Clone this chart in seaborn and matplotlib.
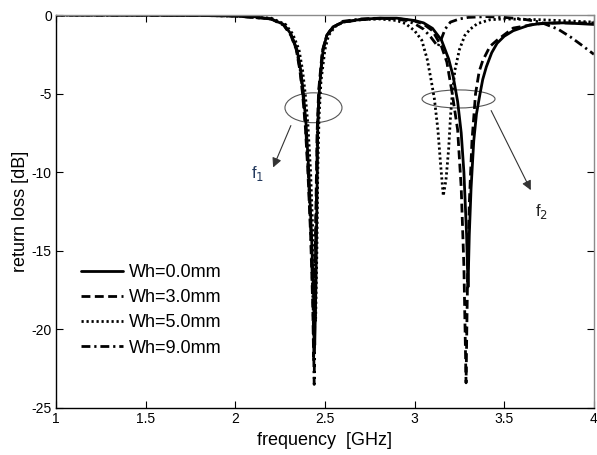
import numpy as np
import pandas as pd
import matplotlib
matplotlib.use("Agg")
import matplotlib.pyplot as plt
from matplotlib.patches import Ellipse
import seaborn as sns

# ---- data ----
wh0_f = [1.0, 1.5, 1.8, 2.0, 2.1, 2.2, 2.27, 2.31, 2.344, 2.365, 2.38, 2.395, 2.41, 2.425, 2.437, 2.443,
         2.45, 2.455, 2.46, 2.47, 2.49, 2.51, 2.545, 2.6, 2.7, 2.8, 2.9, 3.0, 3.05, 3.1, 3.15, 3.19, 3.215,
         3.24, 3.26, 3.275, 3.29, 3.298, 3.305, 3.315, 3.33, 3.345, 3.365, 3.38, 3.40, 3.43, 3.46, 3.5,
         3.55, 3.64, 3.72, 3.83, 3.92, 4.0]
wh0_db = [0.0, -0.01, -0.03, -0.06, -0.1, -0.25, -0.6, -1.2, -2.2, -3.5, -5.0, -7.0, -10.0, -14.0, -18.0, -21.0,
          -17.0, -12.0, -7.0, -4.5, -2.2, -1.3, -0.75, -0.45, -0.28, -0.2, -0.2, -0.35, -0.5, -0.85, -1.6, -2.8, -3.9,
          -5.5, -7.5, -10.0, -14.0, -17.3, -14.0, -11.0, -8.0, -6.3, -5.0, -4.1, -3.3, -2.4, -1.8, -1.35,
          -1.0, -0.64, -0.52, -0.5, -0.55, -0.6]

wh3_f = [1.0, 1.5, 1.8, 2.0, 2.2, 2.27, 2.31, 2.34, 2.36, 2.375, 2.39, 2.405, 2.42, 2.432, 2.437, 2.443,
         2.45, 2.456, 2.465, 2.485, 2.51, 2.54, 2.6, 2.7, 2.8, 2.9, 3.0, 3.05, 3.1, 3.15, 3.18, 3.21, 3.24,
         3.26, 3.275, 3.287, 3.295, 3.305, 3.32, 3.34, 3.36, 3.38, 3.42, 3.46, 3.55, 3.68, 3.8, 3.9, 4.0]
wh3_db = [0.0, -0.01, -0.03, -0.06, -0.25, -0.65, -1.3, -2.2, -3.5, -5.0, -7.0, -10.0, -14.0, -18.5, -22.0, -17.0,
          -12.0, -7.5, -4.8, -2.3, -1.3, -0.8, -0.45, -0.3, -0.22, -0.22, -0.38, -0.58, -1.0, -2.0, -3.0, -5.0, -7.3,
          -11.0, -16.0, -23.4, -17.0, -12.0, -8.0, -5.0, -3.6, -2.9, -2.0, -1.6, -0.83, -0.57, -0.5, -0.5, -0.5]

wh5_f = [1.0, 1.5, 1.8, 2.0, 2.2, 2.28, 2.32, 2.355, 2.375, 2.39, 2.405, 2.42, 2.433, 2.443, 2.448, 2.455,
         2.46, 2.467, 2.478, 2.5, 2.52, 2.555, 2.6, 2.7, 2.8, 2.9, 2.95, 3.0, 3.04, 3.07, 3.09, 3.11, 3.13,
         3.145, 3.16, 3.175, 3.19, 3.2, 3.21, 3.225, 3.25, 3.28, 3.31, 3.35, 3.42, 3.5, 3.7, 3.9, 4.0]
wh5_db = [0.0, -0.01, -0.03, -0.06, -0.2, -0.6, -1.2, -2.2, -3.5, -5.0, -7.0, -10.0, -14.0, -17.5, -19.5, -15.0,
          -10.0, -6.5, -4.2, -2.2, -1.3, -0.75, -0.45, -0.3, -0.25, -0.35, -0.55, -1.0, -1.6, -2.8, -4.0, -5.3, -7.3,
          -9.5, -11.5, -10.5, -8.5, -6.5, -5.0, -3.5, -2.2, -1.3, -0.9, -0.55, -0.3, -0.25, -0.3, -0.4, -0.45]

wh9_f = [1.0, 1.5, 1.8, 2.0, 2.2, 2.27, 2.31, 2.342, 2.362, 2.377, 2.392, 2.407, 2.422, 2.434, 2.44, 2.445,
         2.452, 2.458, 2.467, 2.487, 2.51, 2.545, 2.6, 2.7, 2.8, 2.9, 2.95, 3.0, 3.05, 3.09, 3.13, 3.15, 3.17,
         3.2, 3.25, 3.3, 3.4, 3.5, 3.6, 3.7, 3.8, 3.87, 3.93, 4.0]
wh9_db = [0.0, -0.01, -0.03, -0.06, -0.25, -0.62, -1.25, -2.2, -3.5, -5.0, -7.0, -10.0, -14.0, -18.5, -23.5, -17.0,
          -12.0, -7.5, -4.8, -2.3, -1.3, -0.8, -0.4, -0.25, -0.2, -0.25, -0.35, -0.55, -0.9, -1.4, -2.0, -1.5, -0.9,
          -0.45, -0.25, -0.15, -0.1, -0.15, -0.25, -0.45, -0.9, -1.4, -1.9, -2.5]

labels = ["Wh=0.0mm", "Wh=3.0mm", "Wh=5.0mm", "Wh=9.0mm"]
x_ticks = [1, 1.5, 2, 2.5, 3, 3.5, 4]
x_ticklabels = ["1", "1.5", "2", "2.5", "3", "3.5", "4"]
y_ticks = [0, -5, -10, -15, -20, -25]
y_ticklabels = ["0", "-5", "-10", "-15", "-20", "-25"]

series = [(wh0_f, wh0_db), (wh3_f, wh3_db), (wh5_f, wh5_db), (wh9_f, wh9_db)]
styles = ["-", (0, (3.2, 1.6)), (0, (0.8, 1.0)), (0, (3.2, 1.4, 0.8, 1.4))]

sns.set_style("ticks")
plt.rcParams["font.family"] = ["Liberation Sans", "DejaVu Sans"]
plt.rcParams["text.color"] = "black"
plt.rcParams["axes.labelcolor"] = "black"
plt.rcParams["xtick.color"] = "black"
plt.rcParams["ytick.color"] = "black"

fig = plt.figure(figsize=(5.97, 4.55), dpi=100)
ax = fig.add_axes([0.0938, 0.1033, 0.901, 0.8637])

for (f, db), lab, ls in zip(series, labels, styles):
    df = pd.DataFrame({"f": f, "db": db})
    sns.lineplot(data=df, x="f", y="db", ax=ax, color="black", linestyle=ls,
                 linewidth=2.0, label=lab, sort=False, estimator=None)

ax.set_xlim(1, 4)
ax.set_ylim(-25, 0)
ax.set_xticks(x_ticks)
ax.set_xticklabels(x_ticklabels)
ax.set_yticks(y_ticks)
ax.set_yticklabels(y_ticklabels)
ax.tick_params(direction="in", top=True, right=True, length=5, width=0.8,
               labelsize=10, pad=3, colors="black")
for s in ["left", "bottom"]:
    ax.spines[s].set_color("black")
    ax.spines[s].set_linewidth(1.0)
for s in ["top", "right"]:
    ax.spines[s].set_color("#8a8a8a")
    ax.spines[s].set_linewidth(1.0)
ax.set_xlabel("frequency  [GHz]", fontsize=13, labelpad=4, color="black")
ax.set_ylabel("return loss [dB]", fontsize=13, labelpad=2, color="black")

# annotations
ax.add_patch(Ellipse((2.436, -5.9), 0.318, 1.9, fill=False, edgecolor="#555555", lw=0.8))
ax.add_patch(Ellipse((3.245, -5.34), 0.407, 1.15, fill=False, edgecolor="#555555", lw=0.8))
ax.annotate("", xy=(2.205, -9.86), xytext=(2.316, -6.87),
            arrowprops=dict(arrowstyle="-|>", color="#333333", lw=0.8, mutation_scale=14))
ax.annotate("", xy=(3.655, -11.3), xytext=(3.42, -5.92),
            arrowprops=dict(arrowstyle="-|>", color="#333333", lw=0.8, mutation_scale=14))
ax.text(2.09, -10.4, r"f$_1$", fontsize=12, color="#23395d")
ax.text(3.67, -12.8, r"f$_2$", fontsize=12, color="#222222")

leg = ax.legend(loc="upper left", bbox_to_anchor=(0.04, 0.375), frameon=False,
                fontsize=13, handlelength=2.3, handletextpad=0.35, labelspacing=0.45,
                borderaxespad=0, borderpad=0.2)
for t in leg.get_texts():
    t.set_color("black")

fig.savefig("out.png", dpi=100)
